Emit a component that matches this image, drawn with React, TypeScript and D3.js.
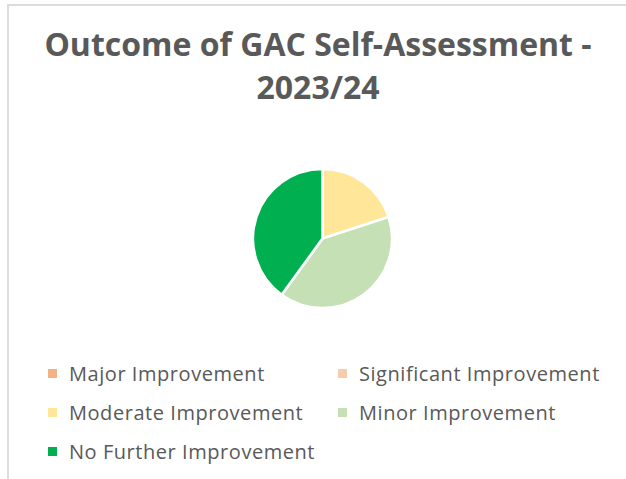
import React, { useEffect, useRef } from "react";
import * as d3 from "d3";

const categories = [
  "Major Improvement",
  "Significant Improvement",
  "Moderate Improvement",
  "Minor Improvement",
  "No Further Improvement",
];
const values = [0, 0, 2, 4, 4];
const colors = ["#F4B183", "#F8CBAD", "#FFE699", "#C5E0B4", "#00B050"];
const titleLines = ["Outcome of GAC Self-Assessment -", "2023/24"];

const W = 626;
const H = 479;

export default function App() {
  const ref = useRef<SVGSVGElement>(null);
  useEffect(() => {
    const svg = d3.select(ref.current);
    svg.selectAll("*").remove();
    svg.append("rect").attr("width", W).attr("height", H).attr("fill", "#fff");
    svg
      .append("rect")
      .attr("x", 8)
      .attr("y", 5)
      .attr("width", 800)
      .attr("height", 800)
      .attr("fill", "#fff")
      .attr("stroke", "#d9d9d9")
      .attr("stroke-width", 1.8);

    const title = svg
      .append("text")
      .attr("text-anchor", "middle")
      .attr("font-family", "'Open Sans', sans-serif")
      .attr("font-weight", "bold")
      .attr("font-size", 32)
      .attr("fill", "#595959");
    titleLines.forEach((t, i) => {
      title
        .append("tspan")
        .attr("x", 318)
        .attr("y", 56 + i * 43)
        .text(t);
    });

    const cx = 322.5;
    const cy = 238.5;
    const r = 69.5;
    const pie = d3
      .pie<number>()
      .sort(null)
      .value((d) => d);
    const arc = d3.arc<d3.PieArcDatum<number>>().innerRadius(0).outerRadius(r);
    const g = svg.append("g").attr("transform", `translate(${cx},${cy})`);
    g.selectAll("path")
      .data(pie(values).filter((d) => d.value > 0))
      .join("path")
      .attr("d", arc)
      .attr("fill", (d) => colors[d.index])
      .attr("stroke", "#fff")
      .attr("stroke-width", 2.5)
      .attr("stroke-linejoin", "round");

    const colX = [48, 338];
    const rowY = [381, 420, 459];
    const lg = svg.append("g");
    categories.forEach((c, i) => {
      const col = i % 2;
      const row = Math.floor(i / 2);
      const x = colX[col];
      const y = rowY[row];
      lg.append("rect")
        .attr("x", x)
        .attr("y", y - 12)
        .attr("width", 9)
        .attr("height", 9)
        .attr("fill", colors[i]);
      lg.append("text")
        .attr("x", x + 21)
        .attr("y", y)
        .attr("font-family", "'Open Sans', sans-serif")
        .attr("font-size", 20)
        .attr("letter-spacing", 0.55)
        .attr("fill", "#595959")
        .text(c);
    });
  }, []);
  return (
    <svg
      ref={ref}
      width={W}
      height={H}
      style={{ position: "absolute", left: 0, top: 0 }}
    />
  );
}
